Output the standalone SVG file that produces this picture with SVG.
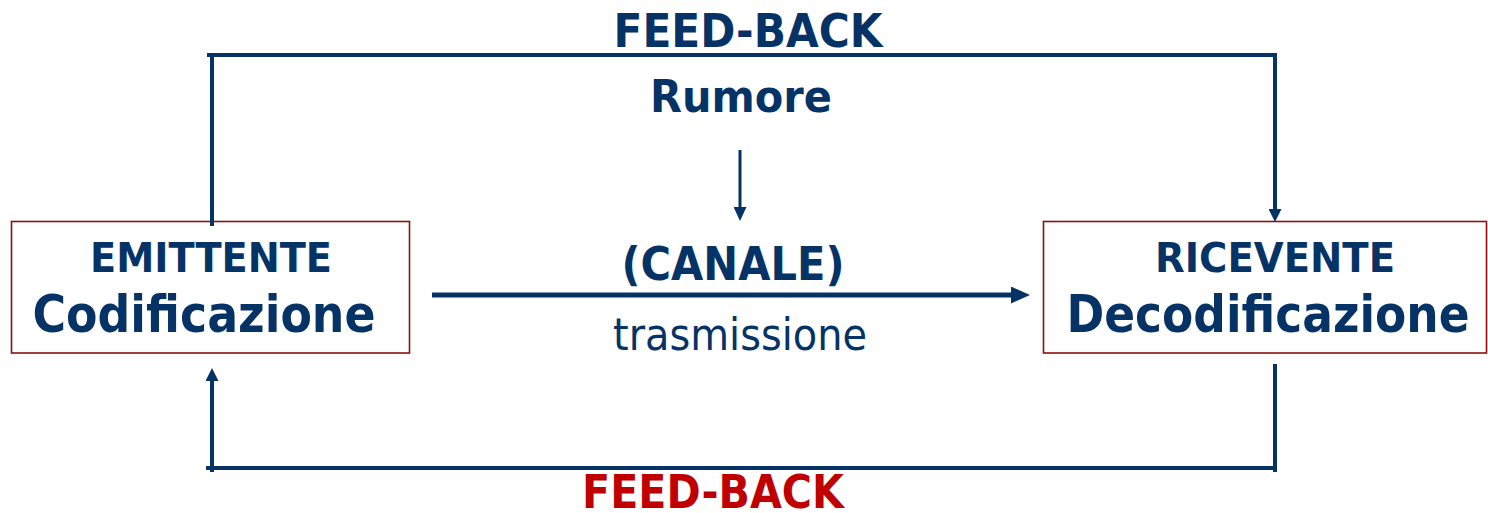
<svg xmlns="http://www.w3.org/2000/svg" width="1488" height="513" viewBox="0 0 1488 513">
  <style>
    .box { fill: #ffffff; stroke: #8b1111; stroke-width: 1.6; }
    .t { font-family: "DejaVu Sans", Verdana, sans-serif; fill: #063366; text-anchor: middle; }
    .b { font-weight: bold; }
    .red { fill: #c00000; }
    .ln { fill: none; stroke: #063366; stroke-width: 4; }
  </style>
  <defs>
    <marker id="head" viewBox="0 0 12 12" refX="0" refY="6" markerWidth="13" markerHeight="13" orient="auto" markerUnits="userSpaceOnUse">
      <path d="M0,0 L12,6 L0,12 Z" fill="#063366"/>
    </marker>
    <marker id="headSmall" viewBox="0 0 14 13" refX="0" refY="6.5" markerWidth="14" markerHeight="13" orient="auto" markerUnits="userSpaceOnUse">
      <path d="M0,0 L14,6.5 L0,13 Z" fill="#063366"/>
    </marker>
    <marker id="headBig" viewBox="0 0 19 17" refX="0" refY="8.5" markerWidth="19" markerHeight="17" orient="auto" markerUnits="userSpaceOnUse">
      <path d="M0,0 L19,8.5 L0,17 Z" fill="#063366"/>
    </marker>
  </defs>

  <!-- sender node -->
  <g id="emittente">
    <rect class="box" x="11.5" y="221.5" width="398" height="131.5"/>
    <text class="t b" x="211" y="272" font-size="40" textLength="242" lengthAdjust="spacingAndGlyphs">EMITTENTE</text>
    <text class="t b" x="204" y="332" font-size="52" textLength="343" lengthAdjust="spacingAndGlyphs">Codificazione</text>
  </g>

  <!-- receiver node -->
  <g id="ricevente">
    <rect class="box" x="1043.5" y="221.5" width="443" height="131.5"/>
    <text class="t b" x="1275" y="272" font-size="40" textLength="240" lengthAdjust="spacingAndGlyphs">RICEVENTE</text>
    <text class="t b" x="1268" y="332" font-size="52" textLength="403" lengthAdjust="spacingAndGlyphs">Decodificazione</text>
  </g>

  <!-- noise source -->
  <g id="rumore">
    <text class="t b" x="741" y="112" font-size="44" textLength="182" lengthAdjust="spacingAndGlyphs">Rumore</text>
  </g>

  <!-- channel labels -->
  <g id="canale">
    <text class="t b" x="733" y="280" font-size="46" textLength="223" lengthAdjust="spacingAndGlyphs">(CANALE)</text>
    <text class="t" x="740" y="350" font-size="44" textLength="254" lengthAdjust="spacingAndGlyphs">trasmissione</text>
  </g>

  <!-- feedback labels -->
  <g id="feedback-top">
    <text class="t b" x="748" y="47" font-size="46" textLength="269" lengthAdjust="spacingAndGlyphs">FEED-BACK</text>
  </g>
  <g id="feedback-bottom">
    <text class="t b red" x="713" y="508" font-size="46" textLength="262" lengthAdjust="spacingAndGlyphs">FEED-BACK</text>
  </g>

  <!-- connectors -->
  <g id="connectors">
    <!-- upper feedback loop: sender up, across, down to receiver -->
    <line class="ln" x1="212" y1="226" x2="212" y2="55"/>
    <line class="ln" x1="207" y1="55" x2="1277" y2="55"/>
    <line class="ln" x1="1275" y1="55" x2="1275" y2="209" marker-end="url(#head)"/>

    <!-- lower feedback loop: receiver down, across, up to sender -->
    <line class="ln" x1="1275" y1="364" x2="1275" y2="472"/>
    <line class="ln" x1="206" y1="468" x2="1277" y2="468"/>
    <line class="ln" x1="212" y1="472" x2="212" y2="381" marker-end="url(#head)"/>

    <!-- noise into channel -->
    <line class="ln" style="stroke-width:3" x1="740" y1="150" x2="740" y2="207" marker-end="url(#headSmall)"/>

    <!-- transmission -->
    <line class="ln" style="stroke-width:5" x1="432" y1="295" x2="1011" y2="295" marker-end="url(#headBig)"/>
  </g>
</svg>
